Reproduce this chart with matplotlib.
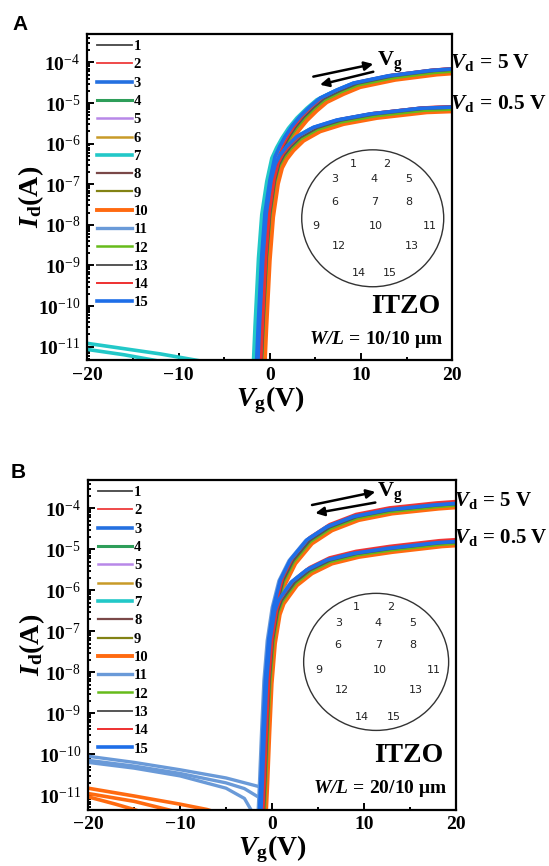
import numpy as np
import matplotlib
matplotlib.use('Agg')
import matplotlib.pyplot as plt
from matplotlib.patches import Ellipse
from matplotlib.ticker import FixedLocator, LogLocator, NullFormatter, FuncFormatter, MultipleLocator

plt.rcParams.update({
    'font.family': ['Liberation Serif', 'DejaVu Serif'],
    'mathtext.fontset': 'custom',
    'mathtext.rm': 'Liberation Serif',
    'mathtext.bf': 'Liberation Serif:bold',
    'mathtext.it': 'Liberation Serif:italic',
    'mathtext.bfit': 'Liberation Serif:italic:bold',
    'axes.unicode_minus': True,
})

# ---------------- data ----------------
device_labels = [str(i) for i in range(1, 16)]
device_colors = ['#444444', '#ee3a3a', '#2470e0', '#2e9e5a', '#b888e8', '#c89a28',
                 '#22c8c8', '#7a4848', '#828214', '#ff6a10', '#6a9ad8', '#66bb1a',
                 '#555555', '#ee3030', '#1e6ee8']
device_widths = [1.3, 1.3, 2.6, 2.2, 1.8, 1.8, 2.6, 1.6, 1.6, 2.8, 2.4, 1.8, 1.4, 1.4, 2.6]

# Panel A (W/L = 10/10 um) : log10(Id) of the reference device
A_vg_5 = [-1.62, -1.44, -1.26, -0.89, -0.53, 0.02, 0.57, 1.10, 1.67, 2.40, 3.31, 4.40, 5.50, 7.33, 9.15, 13.0, 17.56, 20.0]
A_log_5 = [-12.3, -11.33, -10.42, -8.78, -7.71, -6.89, -6.32, -6.06, -5.83, -5.58, -5.33, -5.09, -4.88, -4.68, -4.51, -4.33, -4.20, -4.16]
A_vg_05 = [-1.45, -1.30, -1.12, -0.75, -0.38, 0.15, 0.60, 1.12, 1.85, 2.95, 4.77, 7.33, 10.98, 16.46, 20.0]
A_log_05 = [-12.3, -11.33, -10.42, -8.78, -7.71, -6.89, -6.50, -6.28, -6.07, -5.83, -5.60, -5.42, -5.27, -5.13, -5.10]
A_shift = [0.45, 0.4, 0.05, 0.4, 0.55, 0.6, -0.35, 0.35, 0.6, 0.75, 0.2, 0.45, 0.45, 0.4, 0.0]
A_dlog = [-0.03, 0.03, 0.0, -0.05, -0.04, -0.05, -0.04, -0.04, -0.05, -0.10, -0.03, -0.06, -0.02, 0.03, 0.0]
# off-state tails of device 7 (two sweeps)
A_tail1_vg = [-20, -16, -12, -8.2, -6.0]
A_tail1_log = [-10.92, -11.05, -11.18, -11.33, -11.42]
A_tail2_vg = [-20, -16, -12.8, -10.0]
A_tail2_log = [-11.07, -11.20, -11.33, -11.45]

# Panel B (W/L = 20/10 um)
B_vg_5 = [-1.5, -1.35, -1.2, -0.98, -0.73, -0.37, 0.17, 0.9, 1.99, 3.8, 5.98, 8.87, 12.5, 17.57, 20.0]
B_log_5 = [-12.3, -11.35, -10.63, -9.41, -8.19, -7.21, -6.4, -5.75, -5.26, -4.77, -4.45, -4.20, -4.04, -3.92, -3.88]
B_vg_05 = [-1.35, -1.2, -1.05, -0.83, -0.58, -0.22, 0.3, 0.72, 1.26, 2.17, 3.8, 5.98, 8.87, 12.5, 17.93, 20.0]
B_log_05 = [-12.3, -11.35, -10.63, -9.41, -8.19, -7.21, -6.5, -6.24, -6.07, -5.79, -5.5, -5.26, -5.10, -4.98, -4.84, -4.81]
B_shift = [0.3, 0.25, 0.05, 0.3, 0.4, 0.5, 0.15, 0.3, 0.5, 0.55, -0.15, 0.4, 0.35, 0.3, 0.0]
B_dlog = [-0.02, 0.07, 0.0, -0.04, -0.03, -0.05, -0.03, -0.03, -0.05, -0.09, -0.02, -0.05, -0.02, 0.05, 0.0]
# off-state tails of device 11 (light blue) and device 10 (orange)
B_t11a_vg = [-20, -15, -10, -5, -1.6]
B_t11a_log = [-10.05, -10.20, -10.38, -10.58, -10.78]
B_t11b_vg = [-20, -15, -10, -5, -3, -1.6]
B_t11b_log = [-10.15, -10.29, -10.47, -10.70, -10.84, -11.03]
B_t11c_vg = [-20, -15, -10, -5, -3, -2.3, -2.0]
B_t11c_log = [-10.20, -10.34, -10.53, -10.83, -11.08, -11.35, -11.6]
B_t10a_vg = [-20, -15, -10, -7.07, -5]
B_t10a_log = [-10.83, -11.02, -11.22, -11.35, -11.5]
B_t10b_vg = [-20, -15, -11.4, -9]
B_t10b_log = [-10.96, -11.15, -11.35, -11.5]
B_t10c_vg = [-20, -17, -15, -13]
B_t10c_log = [-11.04, -11.22, -11.35, -11.5]

yticks_exp = [-11, -10, -9, -8, -7, -6, -5, -4]
xticks = [-20, -10, 0, 10, 20]

# wafer map labels: offsets from circle centre (axes fraction)
wafer_pos = [(-0.053, 0.166), (0.039, 0.166), (-0.103, 0.119), (0.004, 0.119), (0.099, 0.119),
             (-0.103, 0.051), (0.006, 0.051), (0.099, 0.051), (-0.155, -0.024), (0.009, -0.024),
             (0.157, -0.024), (-0.094, -0.085), (0.107, -0.085), (-0.039, -0.167), (0.047, -0.167)]

# ---------------- figure ----------------
fig = plt.figure(figsize=(5.49, 8.66), dpi=100)
axA = fig.add_axes([87.3/549, 1-360/866, 365/549, 326/866])
axB = fig.add_axes([88/549, 1-809.5/866, 368/549, 329.5/866])


def style_axis(ax, ylog):
    ax.set_yscale('log')
    ax.set_xlim(-20, 20)
    ax.set_ylim(10**ylog[0], 10**ylog[1])
    ax.xaxis.set_major_locator(FixedLocator(xticks))
    ax.xaxis.set_minor_locator(MultipleLocator(5))
    ax.yaxis.set_major_locator(FixedLocator([10.0**e for e in yticks_exp]))
    ax.yaxis.set_major_formatter(FuncFormatter(
        lambda v, p: r'$\mathbf{10}^{%d}$' % int(round(np.log10(v)))))
    ax.yaxis.set_minor_locator(LogLocator(base=10, subs=np.arange(2, 10), numticks=20))
    ax.yaxis.set_minor_formatter(NullFormatter())
    for s in ax.spines.values():
        s.set_linewidth(1.6)
    ax.tick_params(which='both', direction='in', top=False, right=False, width=1.4)
    ax.tick_params(which='major', length=5, labelsize=14, pad=5)
    ax.tick_params(which='minor', length=2.5)
    for lab in ax.get_xticklabels() + ax.get_yticklabels():
        lab.set_fontweight('bold')
    ax.set_xlabel(r'$\mathbfit{V}_{\mathbf{g}}\mathbf{(V)}$', fontsize=20, labelpad=0)
    ax.set_ylabel(r'$\mathbfit{I}_{\mathbf{d}}\mathbf{(A)}$', fontsize=20, labelpad=-6)


def draw_panel(ax, vg5, lg5, vg05, lg05, shifts, dlogs):
    handles = []
    for i in range(15):
        x5 = np.array(vg5) + shifts[i]
        y5 = 10**(np.array(lg5) + dlogs[i])
        x05 = np.array(vg05) + shifts[i]
        y05 = 10**(np.array(lg05) + dlogs[i])
        h, = ax.plot(x5, y5, color=device_colors[i], lw=device_widths[i], zorder=2+i*0.01,
                     solid_joinstyle='round')
        ax.plot(x05, y05, color=device_colors[i], lw=device_widths[i], zorder=2+i*0.01,
                solid_joinstyle='round')
        handles.append(h)
    return handles


def decorate(ax, handles, circ_center, circ_size, wl_text, vd_y, arrows, vg_lab, vd_fs):
    ax.legend(handles, device_labels, loc='upper left', bbox_to_anchor=(0.027, 0.982),
              frameon=False, borderpad=0, borderaxespad=0, handlelength=2.36,
              handletextpad=0.12, labelspacing=0.35,
              prop={'family': 'Liberation Serif', 'weight': 'bold', 'size': 10.5})
    ax.add_patch(Ellipse(circ_center, circ_size[0], circ_size[1], transform=ax.transAxes,
                         fill=False, ec='#333333', lw=1.0, zorder=5))
    for lab, (dx, dy) in zip(device_labels, wafer_pos):
        ax.text(circ_center[0]+dx, circ_center[1]+dy, lab, transform=ax.transAxes,
                ha='center', va='center', fontsize=8, family='DejaVu Sans', color='#222222')
    ax.text(0.967, 0.145, 'ITZO', transform=ax.transAxes, ha='right', va='baseline',
            fontsize=20, fontweight='bold')
    ax.text(0.975, 0.05, wl_text, transform=ax.transAxes, ha='right', va='baseline',
            fontsize=14)
    tr = ax.get_yaxis_transform()
    ax.text(0.995, 10**vd_y[0], r'$\mathbfit{V}_{\mathbf{d}}\mathbf{\,=\,5\ V}$', transform=tr,
            ha='left', va='center', fontsize=vd_fs, clip_on=False)
    ax.text(0.995, 10**vd_y[1], r'$\mathbfit{V}_{\mathbf{d}}\mathbf{\,=\,0.5\ V}$', transform=tr,
            ha='left', va='center', fontsize=vd_fs, clip_on=False)
    for (x0, y0, x1, y1) in arrows:
        ax.annotate('', xy=(x1, 10**y1), xytext=(x0, 10**y0),
                    arrowprops=dict(arrowstyle='-|>', lw=1.8, color='black',
                                    mutation_scale=13, shrinkA=0, shrinkB=0))
    ax.text(vg_lab[0], 10**vg_lab[1], r'$\mathbf{V}_{\mathbf{g}}$', ha='left', va='center',
            fontsize=16)


# Panel A
style_axis(axA, (-11.33, -3.30))
hA = draw_panel(axA, A_vg_5, A_log_5, A_vg_05, A_log_05, A_shift, A_dlog)
axA.plot(A_tail1_vg, 10**np.array(A_tail1_log), color=device_colors[6], lw=2.6, zorder=1.9)
axA.plot(A_tail2_vg, 10**np.array(A_tail2_log), color=device_colors[6], lw=2.6, zorder=1.9)
decorate(axA, hA, (0.782, 0.4347), (0.389, 0.420),
         r'$\mathbfit{W/L}\mathbf{\,=\,10/10\ μm}$', (-4.0, -5.0),
         [(4.77, -4.35, 11.34, -4.04), (11.34, -4.23, 5.5, -4.55)], (11.75, -3.99), 15.5)

# Panel B
style_axis(axB, (-11.35, -3.31))
hB = draw_panel(axB, B_vg_5, B_log_5, B_vg_05, B_log_05, B_shift, B_dlog)
for vx, vy in [(B_t11a_vg, B_t11a_log), (B_t11b_vg, B_t11b_log), (B_t11c_vg, B_t11c_log)]:
    axB.plot(vx, 10**np.array(vy), color=device_colors[10], lw=2.4, zorder=1.9)
for vx, vy in [(B_t10a_vg, B_t10a_log), (B_t10b_vg, B_t10b_log), (B_t10c_vg, B_t10c_log)]:
    axB.plot(vx, 10**np.array(vy), color=device_colors[9], lw=2.6, zorder=1.9)
decorate(axB, hB, (0.783, 0.448), (0.394, 0.416),
         r'$\mathbfit{W/L}\mathbf{\,=\,20/10\ μm}$', (-3.8, -4.72),
         [(4.35, -3.92, 11.23, -3.60), (11.23, -3.86, 4.71, -4.12)], (11.41, -3.63), 15)

fig.text(12/549, 1-30/866, 'A', fontsize=15, fontweight='bold', family='Liberation Sans')
fig.text(11/549, 1-478/866, 'B', fontsize=15, fontweight='bold', family='Liberation Sans')

fig.savefig('out.png', dpi=100)
